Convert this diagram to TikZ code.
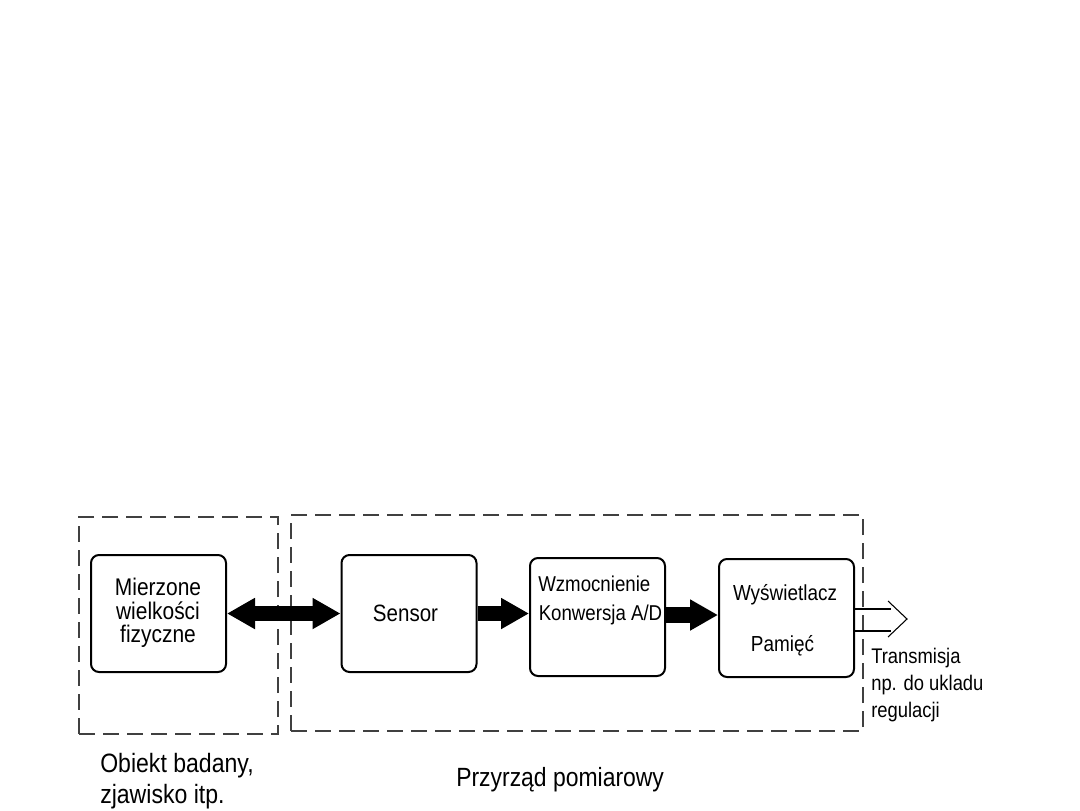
\documentclass[tikz,border=0pt]{standalone}
\usepackage{fontspec}
\setmainfont{Liberation Sans}
\usetikzlibrary{arrows.meta}
\begin{document}
\begin{tikzpicture}[x=0.75pt,y=-0.75pt,
  box/.style={draw=black, line width=1.5pt, rounded corners=6pt, inner sep=0pt,
              minimum width=101.25pt, minimum height=87.75pt},
  area/.style={draw=black!75, line width=0.8pt, dash pattern=on 12pt off 6pt, inner sep=0pt},
  txt/.style={inner sep=0pt, yscale=1.15, text=black},
  fatarrow/.style={line width=11.5pt, -{Triangle[length=21pt,width=22pt]}},
  fatboth/.style={line width=11.5pt, {Triangle[length=21pt,width=22pt]}-{Triangle[length=21pt,width=22pt]}},
  thinline/.style={draw=black, line width=0.8pt}]
\useasboundingbox (0,0) rectangle (1080,810);

% dashed areas
\node[area, minimum width=149.25pt, minimum height=162.75pt] (obj) at (178.5,625.5) {};
\node[area, minimum width=429pt, minimum height=162pt] (dev) at (577,623) {};

% blocks
\node[box] (m) at (158.5,613.5) {};
\node[box] (s) at (409,613.5) {};
\node[box, minimum height=88.5pt] (w) at (597.5,617) {};
\node[box, minimum height=88.5pt] (d) at (786.5,618) {};

% texts in blocks
\node[txt, align=center, font=\fontsize{15.7}{15.2}\selectfont] (mt) at (158,613) {Mierzone\\wielkości\\fizyczne};
\node[txt, font=\fontsize{15.4}{18}\selectfont] (st) at (405.5,613) {Sensor};
\node[txt, anchor=base west, font=\fontsize{14}{17}\selectfont] (wt1) at (538,591.5) {Wzmocnienie};
\node[txt, anchor=base west, font=\fontsize{14}{17}\selectfont] (wt2) at (538.5,620) {Konwersja A/D};
\node[txt, anchor=base, font=\fontsize{14.2}{17}\selectfont] (dt1) at (785,600) {Wyświetlacz};
\node[txt, anchor=base, font=\fontsize{14.2}{17}\selectfont] (dt2) at (782.5,651.5) {Pamięć};

% connectors
\draw[fatboth] (m.east) -- (m.east -| s.west);
\draw[fatarrow] (s.east) -- (s.east -| w.west);
\draw[fatarrow] ([yshift=1.5pt]w.east) -- ([yshift=1.5pt]w.east -| d.west);

% open output arrow
\coordinate (e1) at (891,609);
\coordinate (e2) at (891,631);
\coordinate (c1) at (888,601);
\coordinate (c2) at (907,619);
\coordinate (c3) at (888,637);
\draw[thinline] (e1 -| d.east) -- (e1);
\draw[thinline] (e2 -| d.east) -- (e2);
\draw[thinline] (c1) -- (c2) -- (c3);

\node[txt, anchor=north west, align=left, font=\fontsize{13.8}{17.4}\selectfont] (tr) at (871,648) {Transmisja\\np. do ukladu\\regulacji};

% area labels
\node[txt, anchor=north west, align=left, font=\fontsize{17.3}{20.2}\selectfont] (ol) at (100,753) {Obiekt badany,\\zjawisko itp.};
\node[txt, anchor=base west, font=\fontsize{17.2}{20}\selectfont] (dl) at (456,786) {Przyrząd pomiarowy};
\end{tikzpicture}
\end{document}
